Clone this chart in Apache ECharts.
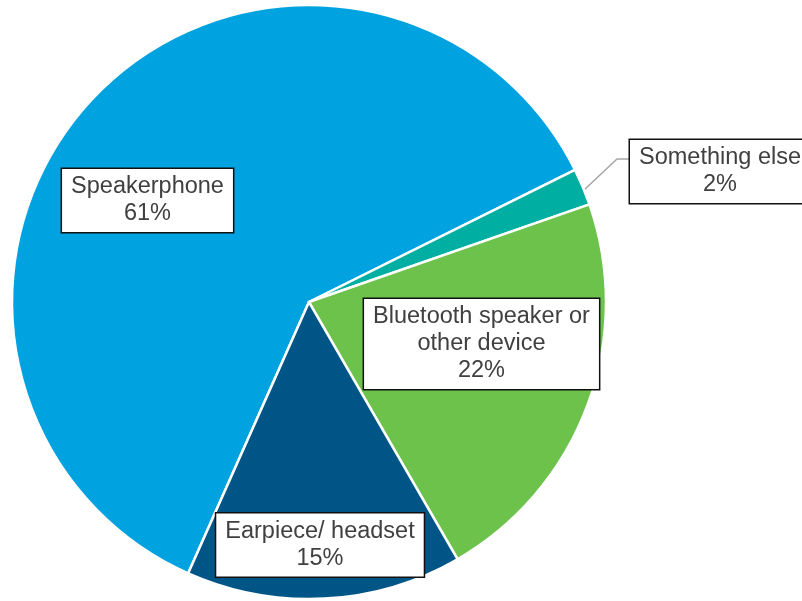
<!DOCTYPE html>
<html>
<head>
<meta charset="utf-8">
<script src="https://cdn.jsdelivr.net/npm/echarts@6/dist/echarts.min.js"></script>
<style>html,body{margin:0;padding:0;background:#fff}#c{width:802px;height:601px}</style>
</head>
<body>
<div id="c"></div>
<script>
var categories = ['Speakerphone', 'Something else', 'Bluetooth speaker or\nother device', 'Earpiece/ headset'];
var values = [61, 2, 22, 15];
var colors = ['#00A3E0', '#00AFA2', '#6CC24A', '#005587'];
var labelCenters = [[147.5, 200.5], [720, 171.5], [481.5, 344], [320, 545]];

var chart = echarts.init(document.getElementById('c'), null, {renderer: 'canvas'});
chart.setOption({
  animation: false,
  series: [{
    type: 'pie',
    center: [309, 302],
    radius: 297,
    startAngle: 246,
    clockwise: true,
    avoidLabelOverlap: false,
    emphasis: {disabled: true},
    itemStyle: {borderColor: '#fff', borderWidth: 2.5},
    label: {
      show: true,
      position: 'inside',
      formatter: function (p) { return p.name + '\n' + p.value + '%'; },
      fontFamily: 'Liberation Sans, Arial, sans-serif',
      fontSize: 23.5,
      lineHeight: 27,
      color: '#404040',
      backgroundColor: '#fff',
      borderColor: '#111',
      borderWidth: 1.5,
      padding: [5, 9, 4, 9],
      align: 'center'
    },
    labelLine: {show: false},
    labelLayout: function (params) {
      var i = params.dataIndex;
      var r = {x: labelCenters[i][0], y: labelCenters[i][1], align: 'center', verticalAlign: 'middle'};
      if (i === 1) {
        r.labelLinePoints = [[584, 190], [617, 159], [629, 159]];
      }
      return r;
    },
    data: categories.map(function (n, i) {
      var d = {name: n, value: values[i], itemStyle: {color: colors[i]}};
      if (i === 1) {
        d.label = {position: 'outside'};
        d.labelLine = {show: true, length: 20, length2: 10, lineStyle: {color: '#a6a6a6', width: 1.5}};
      }
      return d;
    })
  }]
});
</script>
</body>
</html>
